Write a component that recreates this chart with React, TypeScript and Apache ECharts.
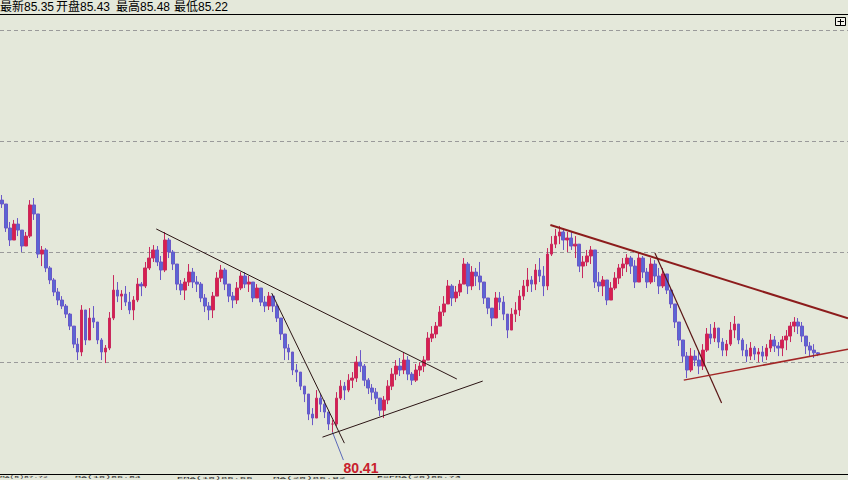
import React, { useEffect, useRef } from 'react';
import * as echarts from 'echarts';

// Bars, one every 4 px, left to right.
const highs = [
  95.42, 94.79, 93.71, 93.84, 93.96, 92.95, 93.08, 95.10, 95.23, 94.22,
  92.19, 92.06, 90.92, 90.16, 89.53, 89.02, 88.52, 87.95, 87.12, 86.36,
  88.45, 87.76, 88.26, 88.39, 87.38, 86.36, 85.92, 88.01, 90.35, 89.91,
  89.40, 89.66, 89.28, 89.02, 90.16, 89.91, 91.18, 92.13, 92.25, 92.19,
  91.56, 93.08, 92.70, 91.94, 91.05, 90.04, 90.16, 91.05, 90.80, 90.29,
  89.91, 89.15, 88.64, 89.28, 90.54, 90.99, 90.80, 89.66, 89.28, 89.91,
  90.54, 90.54, 90.29, 89.78, 89.78, 89.53, 89.02, 89.28, 89.15, 88.52,
  87.63, 86.36, 85.98, 85.35, 84.72, 84.21, 83.32, 82.44, 81.93, 83.07,
  82.82, 82.44, 81.68, 81.17, 82.94, 83.70, 83.58, 84.08, 84.21, 85.22,
  85.60, 84.72, 83.83, 83.45, 83.20, 82.44, 82.69, 83.70, 84.46, 84.97,
  85.10, 85.48, 85.22, 84.21, 84.72, 84.84, 85.22, 86.74, 87.12, 87.38,
  88.39, 89.02, 90.04, 89.78, 89.66, 90.04, 91.43, 91.18, 90.92, 90.80,
  91.18, 89.78, 88.90, 88.14, 89.28, 89.28, 89.02, 87.63, 88.26, 88.64,
  89.40, 90.04, 90.80, 90.29, 91.05, 91.43, 90.92, 92.06, 92.82, 93.27,
  93.46, 93.33, 93.08, 93.08, 92.82, 92.19, 91.56, 91.94, 92.19, 91.81,
  90.54, 90.29, 89.78, 89.91, 90.54, 91.05, 91.43, 91.68, 91.56, 91.30,
  91.81, 91.56, 90.80, 91.43, 91.30, 90.80, 90.80, 90.29, 89.53, 88.39,
  87.25, 86.24, 85.48, 85.73, 85.60, 85.48, 85.98, 87.00, 87.25, 87.38,
  87.00, 86.36, 86.24, 87.38, 87.76, 87.12, 86.36, 85.98, 86.11, 85.86,
  85.73, 85.86, 85.98, 86.62, 86.49, 86.11, 86.49, 86.87, 87.38, 87.69,
  87.63, 87.38, 86.36, 86.11, 85.98, 85.48,
];
const lows = [
  94.60, 93.08, 92.19, 92.57, 92.82, 91.81, 92.19, 92.70, 93.84, 91.43,
  90.92, 90.54, 89.78, 89.02, 88.45, 88.20, 87.63, 86.87, 85.73, 84.97,
  85.22, 85.92, 86.24, 87.00, 85.98, 84.97, 84.78, 85.60, 87.50, 88.64,
  88.14, 88.39, 87.88, 87.50, 88.64, 89.02, 89.53, 90.67, 91.18, 90.92,
  90.04, 90.54, 91.43, 90.67, 89.40, 89.09, 88.77, 89.66, 89.53, 89.28,
  88.64, 88.01, 87.50, 87.63, 89.15, 89.91, 89.40, 88.64, 88.26, 88.52,
  89.40, 89.53, 89.28, 88.64, 88.90, 88.39, 88.01, 88.14, 88.01, 87.38,
  86.24, 84.97, 84.97, 84.02, 83.58, 83.07, 82.31, 81.17, 80.85, 81.55,
  81.68, 81.30, 80.54, 80.41, 80.79, 82.44, 82.44, 82.94, 83.20, 83.58,
  84.21, 83.32, 82.82, 82.44, 82.18, 81.42, 81.30, 82.18, 83.07, 83.70,
  83.96, 84.08, 83.70, 83.39, 83.58, 83.96, 84.21, 85.10, 86.11, 86.36,
  87.12, 87.76, 88.52, 88.39, 88.64, 89.02, 89.91, 89.15, 89.40, 89.66,
  89.40, 88.52, 87.88, 87.12, 87.63, 88.14, 87.50, 86.36, 86.87, 87.38,
  87.76, 88.77, 89.28, 89.28, 89.40, 89.91, 89.02, 89.40, 91.56, 92.06,
  92.31, 91.94, 91.81, 91.94, 91.43, 90.54, 90.16, 90.92, 91.05, 89.53,
  89.28, 89.02, 88.45, 88.77, 89.40, 89.78, 90.29, 90.54, 90.42, 89.53,
  90.42, 90.16, 89.53, 89.78, 89.91, 89.15, 89.53, 89.15, 88.26, 87.00,
  85.86, 84.84, 83.83, 84.21, 84.59, 84.08, 84.34, 85.48, 85.98, 86.11,
  85.73, 85.22, 85.22, 85.86, 86.36, 85.98, 85.22, 84.84, 84.97, 84.97,
  84.84, 84.84, 84.97, 85.48, 85.48, 85.22, 85.22, 85.60, 86.11, 86.74,
  86.62, 86.11, 85.35, 85.22, 85.10, 85.22,
];
const closes = [
  94.85, 93.33, 92.57, 93.58, 93.20, 92.19, 92.82, 94.79, 94.22, 91.68,
  91.94, 90.80, 90.04, 89.28, 88.77, 88.39, 87.88, 87.12, 85.98, 85.48,
  88.14, 86.24, 87.63, 87.38, 86.24, 85.48, 85.73, 87.63, 89.40, 89.02,
  89.15, 88.64, 88.14, 88.77, 89.78, 89.66, 90.80, 91.43, 91.94, 91.18,
  90.67, 92.57, 91.81, 91.05, 89.78, 89.40, 89.91, 90.54, 89.91, 89.78,
  88.90, 88.39, 88.14, 89.02, 90.16, 90.67, 89.78, 89.02, 88.77, 89.53,
  90.29, 89.78, 89.91, 88.90, 89.53, 88.64, 88.39, 89.02, 88.39, 87.63,
  86.62, 85.73, 85.48, 84.34, 84.21, 83.32, 82.82, 81.55, 81.30, 82.56,
  82.18, 81.68, 80.92, 80.92, 82.56, 83.32, 83.07, 83.70, 83.83, 84.84,
  84.59, 83.70, 83.20, 82.94, 82.56, 81.80, 82.44, 83.32, 84.08, 84.59,
  84.34, 84.97, 84.08, 83.70, 84.34, 84.59, 84.97, 86.36, 86.62, 87.12,
  88.01, 88.52, 89.66, 88.90, 89.28, 89.78, 91.05, 89.66, 90.54, 90.29,
  89.91, 88.90, 88.26, 87.63, 88.90, 88.64, 87.88, 86.87, 87.88, 88.14,
  89.02, 89.66, 90.04, 89.78, 90.67, 90.29, 89.66, 91.68, 92.31, 92.82,
  93.08, 92.57, 92.70, 92.19, 92.31, 90.92, 91.18, 91.56, 91.94, 89.91,
  89.66, 90.04, 88.77, 89.53, 90.16, 90.80, 91.05, 91.43, 90.92, 89.91,
  91.43, 90.54, 89.91, 91.05, 90.29, 89.66, 90.42, 89.40, 88.52, 87.38,
  86.24, 85.22, 84.34, 85.22, 84.97, 84.59, 85.60, 86.62, 86.36, 87.00,
  86.11, 85.60, 85.98, 86.87, 87.25, 86.24, 85.60, 85.22, 85.73, 85.35,
  85.48, 85.22, 85.73, 86.24, 85.86, 85.73, 86.24, 86.49, 87.12, 87.38,
  87.12, 86.49, 85.86, 85.60, 85.43, 85.35,
];
const firstOpen = 95.1;
const emptySlots = 7;

const headerLabels = ['最新', '开盘', '最高', '最低'];
const footerTexts = ['MA(5)87.72', 'MA(10)86.84', 'EMA(10)86.66', 'MA(20)86.92', 'EXPMA(20)86.73'];

// Trend lines in (bar index, price)
const trendFrom = [
  [38.75, 93.27], [67.75, 89.21], [80.5, 80.09], [137.75, 93.52], [164, 91.75], [171.25, 83.7],
];
const trendTo = [
  [114.25, 83.77], [86, 79.71], [120.75, 83.64], [212.5, 87.61], [180.75, 82.25], [212.5, 85.66],
];
const trendColors = ['#2b1414', '#2b1414', '#2b1414', '#8c1c1c', '#5a1616', '#a22626'];
const trendWidths = [1, 1, 1, 2, 1.2, 1.5];

export default function App() {
  const ref = useRef<HTMLDivElement>(null);
  useEffect(() => {
    const chart = echarts.init(ref.current!, null, { renderer: 'svg' });
    const n = closes.length;
    const opens = closes.map((c, i) => (i === 0 ? firstOpen : closes[i - 1]));
    const candles = closes.map((c, i) => [opens[i], c, lows[i], highs[i]]);
    const total = n + emptySlots;
    const cats = Array.from({ length: total }, (_, i) => String(i));
    const minLow = Math.min(...lows);
    const minIdx = lows.indexOf(minLow);
    const last = n - 1;
    const headerVals = [closes[last], opens[last], highs[last], lows[last]];
    const headerX = [0, 56, 116, 174];
    const footerX = [0, 75, 177, 273, 377];
    const footerScaleX = [0.8, 1, 1.05, 1.1, 1];
    const pointerEnd = [minIdx + 2.75, minLow - 1.77];

    const lineSeries = trendFrom.map((f, i) => ({
      type: 'line',
      xAxisIndex: 1,
      yAxisIndex: 0,
      data: [f, trendTo[i]],
      symbol: 'none',
      silent: true,
      z: 5,
      lineStyle: { color: trendColors[i], width: trendWidths[i] },
    }));

    chart.setOption({
      animation: false,
      backgroundColor: '#e4e8da',
      grid: { left: -1.5, right: -2.5, top: 14, bottom: 7, containLabel: false },
      xAxis: [
        { type: 'category', data: cats, boundaryGap: true, show: false },
        { type: 'value', min: -0.5, max: total - 0.5, show: false },
      ],
      yAxis: {
        type: 'value',
        min: 77.82,
        max: 106.88,
        interval: 7,
        axisLabel: { show: false },
        axisLine: { show: false },
        axisTick: { show: false },
        splitLine: {
          show: true,
          showMinLine: false,
          showMaxLine: false,
          lineStyle: { color: '#9a9a9a', type: [4, 3], width: 1 },
        },
      },
      series: [
        {
          type: 'candlestick',
          data: candles,
          barWidth: 3.2,
          z: 3,
          itemStyle: {
            color: '#d81f4e',
            color0: '#5a66d4',
            borderColor: '#c82a5e',
            borderColor0: '#6a58c8',
            borderWidth: 1,
          },
        },
        ...lineSeries,
        {
          type: 'line',
          xAxisIndex: 1,
          yAxisIndex: 0,
          data: [[minIdx, minLow], pointerEnd],
          symbol: 'none',
          silent: true,
          z: 4,
          lineStyle: { color: '#5a68b8', width: 1 },
        },
      ],
    });

    const lp = chart.convertToPixel({ xAxisIndex: 1, yAxisIndex: 0 }, pointerEnd) as number[];

    const graphics: any[] = [
      { type: 'line', shape: { x1: 0, y1: 14.5, x2: 848, y2: 14.5 }, style: { stroke: '#000', lineWidth: 1 }, z: 100 },
      { type: 'line', shape: { x1: 0, y1: 474.5, x2: 848, y2: 474.5 }, style: { stroke: '#000', lineWidth: 1 }, z: 100 },
      { type: 'rect', shape: { x: 835.5, y: 17.5, width: 10, height: 8 }, style: { fill: '#f2f2ea', stroke: '#000', lineWidth: 1 }, z: 100 },
      { type: 'line', shape: { x1: 837.5, y1: 21.5, x2: 844, y2: 21.5 }, style: { stroke: '#000', lineWidth: 1 }, z: 101 },
      { type: 'line', shape: { x1: 840.5, y1: 19, x2: 840.5, y2: 25 }, style: { stroke: '#000', lineWidth: 1 }, z: 101 },
      {
        type: 'text',
        x: lp[0],
        y: lp[1] + 1,
        z: 100,
        style: {
          text: minLow.toFixed(2),
          fill: '#c8202c',
          font: "bold 14px 'Liberation Sans', Arial, sans-serif",
          textAlign: 'left',
          textVerticalAlign: 'top',
        },
      },
    ];
    headerLabels.forEach((lab, i) => {
      graphics.push({
        type: 'text',
        x: headerX[i],
        y: 1,
        z: 100,
        style: {
          text: lab + headerVals[i].toFixed(2),
          fill: '#000',
          font: "12px 'Liberation Sans', 'Noto Sans CJK SC', sans-serif",
          textVerticalAlign: 'top',
        },
      });
    });
    footerTexts.forEach((t, i) => {
      graphics.push({
        type: 'text',
        x: footerX[i],
        y: 475.5,
        scaleX: footerScaleX[i],
        scaleY: 0.38,
        z: 100,
        style: {
          text: t,
          fill: '#222',
          font: "10px 'Liberation Mono', monospace",
          textVerticalAlign: 'top',
        },
      });
    });
    chart.setOption({ graphic: graphics });

    return () => chart.dispose();
  }, []);
  return <div ref={ref} style={{ position: 'fixed', left: 0, top: 0, width: 848, height: 480 }} />;
}
